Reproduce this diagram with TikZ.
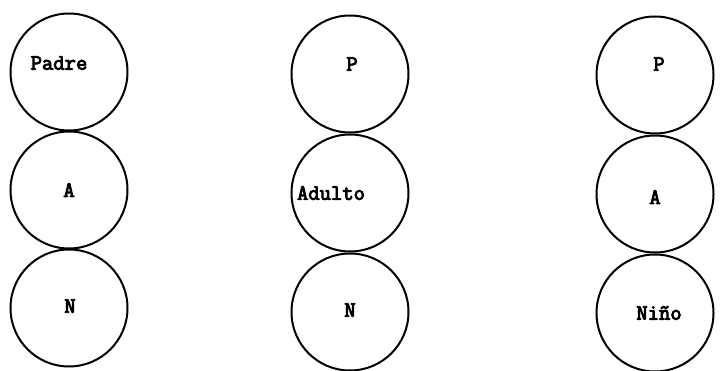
\documentclass[tikz,border=0pt]{standalone}
\usepackage{fontspec}
\setmonofont{Latin Modern Mono}[AutoFakeBold=4]
\begin{document}
\begin{tikzpicture}[x=1pt,y=-1pt,
  ring/.style={circle,draw=black,line width=2pt,minimum size=117pt,inner sep=0pt},
  lbl/.style={font=\ttfamily\bfseries\fontsize{22}{22}\selectfont,inner sep=0pt}]
\useasboundingbox (0,0) rectangle (723,371);
% left column
\node[ring] (p1) at (69,72) {};
\node[ring] (a1) at (69,190) {};
\node[ring] (n1) at (69,308) {};
\node[lbl] (tp1) at (59,63) {Padre};
\node[lbl] (ta1) at (69,190) {A};
\node[lbl] (tn1) at (70,306) {N};
% middle column
\node[ring] (p2) at (350,74) {};
\node[ring] (a2) at (350,193) {};
\node[ring] (n2) at (350,312) {};
\node[lbl] (tp2) at (352,64) {P};
\node[lbl] (ta2) at (331,193) {Adulto};
\node[lbl] (tn2) at (350,310) {N};
% right column
\node[ring] (p3) at (655,75) {};
\node[ring] (a3) at (655,194) {};
\node[ring] (n3) at (655,313) {};
\node[lbl] (tp3) at (659,64) {P};
\node[lbl] (ta3) at (655,197) {A};
\node[lbl] (tn3) at (659,313) {Niño};
\end{tikzpicture}
\end{document}
